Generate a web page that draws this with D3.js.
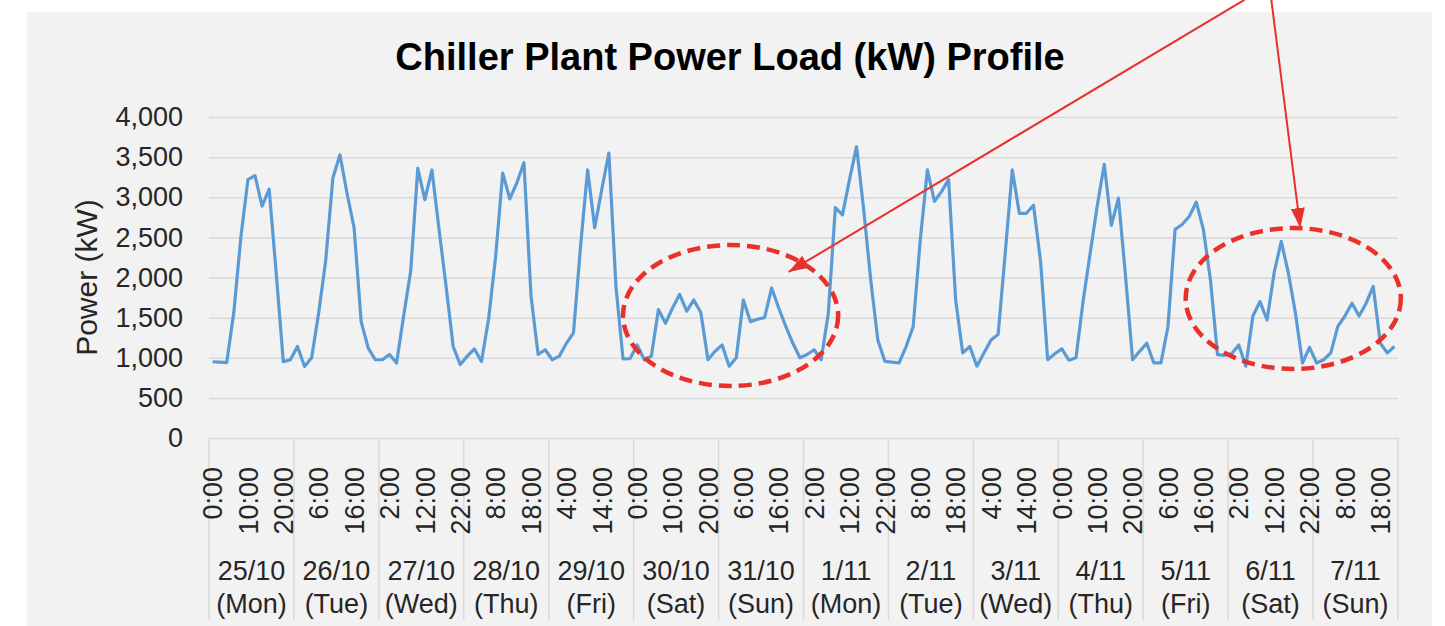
<!DOCTYPE html>
<html>
<head>
<meta charset="utf-8">
<script src="https://cdn.jsdelivr.net/npm/d3@7"></script>
<style>
  body { margin: 0; background: #fff; }
  svg { display: block; font-family: "Liberation Sans", Arial, Helvetica, sans-serif; }
</style>
</head>
<body>
<svg id="chart" width="1445" height="626"></svg>
<script>
// 2-hourly readings, 25/10 0:00 .. 7/11 22:00
const days = ['25/10', '26/10', '27/10', '28/10', '29/10', '30/10', '31/10',
  '1/11', '2/11', '3/11', '4/11', '5/11', '6/11', '7/11'];
const weekdays = ['(Mon)', '(Tue)', '(Wed)', '(Thu)', '(Fri)', '(Sat)', '(Sun)',
  '(Mon)', '(Tue)', '(Wed)', '(Thu)', '(Fri)', '(Sat)', '(Sun)'];
const hours = ['0:00', '2:00', '4:00', '6:00', '8:00', '10:00',
  '12:00', '14:00', '16:00', '18:00', '20:00', '22:00'];
const yTicks = [0, 500, 1000, 1500, 2000, 2500, 3000, 3500, 4000];

const power = [
  950, 945, 940, 1560, 2500, 3220, 3270, 2890, 3100, 2050, 950, 975,
  1140, 890, 1000, 1560, 2220, 3240, 3530, 3050, 2620, 1450, 1120, 975,
  975, 1040, 935, 1520, 2080, 3360, 2970, 3340, 2600, 1890, 1140, 915,
  1020, 1110, 955, 1480, 2260, 3300, 2980, 3180, 3430, 1770, 1040, 1100,
  975, 1020, 1180, 1310, 2390, 3340, 2620, 3100, 3550, 1890, 985, 990,
  1160, 975, 1020, 1600, 1430, 1620, 1790, 1580, 1720, 1560, 975, 1080,
  1160, 895, 1000, 1720, 1450, 1480, 1500, 1870, 1620, 1390, 1180, 1000,
  1040, 1100, 975, 1550, 2870, 2780, 3220, 3630, 2850, 1970, 1220, 955,
  945, 935, 1140, 1390, 2470, 3340, 2950, 3070, 3220, 1720, 1060, 1140,
  895, 1060, 1220, 1290, 2300, 3340, 2800, 2800, 2900, 2200, 975, 1050,
  1110, 970, 1000, 1700, 2300, 2890, 3410, 2650, 2990, 2020, 975, 1080,
  1180, 935, 935, 1390, 2600, 2660, 2760, 2940, 2600, 1970, 1040, 1030,
  1050, 1160, 895, 1520, 1700, 1470, 2060, 2450, 2060, 1560, 935, 1130,
  935, 975, 1060, 1390, 1520, 1680, 1520, 1680, 1890, 1180, 1060, 1140
];

// red call-outs, in data units (slot index, kW)
const circled = [
  { cx: 73.2, cy: 1526, rx: 15.2, ry: 878 },
  { cx: 152.7, cy: 1738, rx: 15.2, ry: 878 }
];
const arrows = [
  { from: [145.8, 5460], to: [81.4, 2069] },
  { from: [149.6, 5460], to: [153.7, 2617] }
];

const perDay = hours.length;
const plot = { left: 209, right: 1398, top: 117, bottom: 438 };

const svg = d3.select('#chart');

svg.append('rect')
  .attr('x', 27).attr('y', 12)
  .attr('width', 1405).attr('height', 614)
  .attr('fill', '#f2f2f2');

const x = d3.scaleLinear().domain([-0.5, power.length - 0.5]).range([plot.left, plot.right]);
const y = d3.scaleLinear().domain([0, 4000]).range([plot.bottom, plot.top]);

// title
svg.append('text')
  .attr('x', 730).attr('y', 70)
  .attr('text-anchor', 'middle')
  .attr('font-size', 38).attr('font-weight', 'bold')
  .attr('fill', '#000')
  .text('Chiller Plant Power Load (kW) Profile');

// gridlines + y labels
const yAxis = svg.append('g')
  .attr('transform', `translate(${plot.left},0)`)
  .call(d3.axisLeft(y).tickValues(yTicks).tickFormat(d3.format(',')).tickSize(-(plot.right - plot.left)).tickPadding(26));
yAxis.select('.domain').remove();
yAxis.selectAll('.tick line').attr('stroke', '#d9d9d9').attr('stroke-width', 1.5);
yAxis.selectAll('.tick text')
  .attr('font-size', 27)
  .attr('fill', '#262626')
  .attr('font-family', '"Liberation Sans", Arial, sans-serif');

svg.append('text')
  .attr('transform', `translate(97,${(plot.top + plot.bottom) / 2}) rotate(-90)`)
  .attr('text-anchor', 'middle')
  .attr('font-size', 30)
  .attr('fill', '#262626')
  .text('Power (kW)');

// category axis: day separators
const axisBottom = 620;
const xg = svg.append('g').attr('class', 'x-axis');
xg.selectAll('line.sep')
  .data(d3.range(days.length + 1))
  .enter()
  .append('line')
  .attr('class', 'sep')
  .attr('x1', (d) => x(d * perDay - 0.5))
  .attr('x2', (d) => x(d * perDay - 0.5))
  .attr('y1', plot.bottom)
  .attr('y2', axisBottom)
  .attr('stroke', '#d9d9d9')
  .attr('stroke-width', 1.5);

// time labels every 5th slot
xg.selectAll('text.hour')
  .data(d3.range(0, power.length, 5))
  .enter()
  .append('text')
  .attr('class', 'hour')
  .attr('transform', (d) => `translate(${x(d)},467) rotate(-90)`)
  .attr('dy', '0.36em')
  .attr('text-anchor', 'end')
  .attr('font-size', 27)
  .attr('fill', '#262626')
  .text((d) => hours[d % perDay]);

const dayLabels = xg.selectAll('text.day')
  .data(days)
  .enter()
  .append('text')
  .attr('class', 'day')
  .attr('text-anchor', 'middle')
  .attr('font-size', 27)
  .attr('fill', '#262626');
dayLabels.append('tspan')
  .attr('x', (d, i) => x(i * perDay + perDay / 2 - 0.5))
  .attr('y', 580)
  .text((d) => d);
dayLabels.append('tspan')
  .attr('x', (d, i) => x(i * perDay + perDay / 2 - 0.5))
  .attr('y', 613)
  .text((d, i) => weekdays[i]);

// the series
const line = d3.line()
  .x((d, i) => x(i))
  .y((d) => y(d));

svg.append('path')
  .datum(power)
  .attr('d', line)
  .attr('fill', 'none')
  .attr('stroke', '#5b9bd5')
  .attr('stroke-width', 3.2)
  .attr('stroke-linejoin', 'round');

// call-outs
const red = '#e8312a';
const pxPerSlot = x(1) - x(0);
const pxPerKw = y(0) - y(1);

svg.append('defs')
  .append('marker')
  .attr('id', 'head')
  .attr('markerUnits', 'userSpaceOnUse')
  .attr('orient', 'auto')
  .attr('markerWidth', 20)
  .attr('markerHeight', 14)
  .attr('refX', 20)
  .attr('refY', 7)
  .append('path')
  .attr('d', 'M0,0 L20,7 L0,14 Z')
  .attr('fill', red);

svg.selectAll('ellipse.callout')
  .data(circled)
  .enter()
  .append('ellipse')
  .attr('class', 'callout')
  .attr('cx', (d) => x(d.cx))
  .attr('cy', (d) => y(d.cy))
  .attr('rx', (d) => d.rx * pxPerSlot)
  .attr('ry', (d) => d.ry * pxPerKw)
  .attr('fill', 'none')
  .attr('stroke', red)
  .attr('stroke-width', 4.5)
  .attr('stroke-dasharray', '13 7');

svg.selectAll('line.arrow')
  .data(arrows)
  .enter()
  .append('line')
  .attr('class', 'arrow')
  .attr('x1', (d) => x(d.from[0]))
  .attr('y1', (d) => y(d.from[1]))
  .attr('x2', (d) => x(d.to[0]))
  .attr('y2', (d) => y(d.to[1]))
  .attr('stroke', red)
  .attr('stroke-width', 2)
  .attr('marker-end', 'url(#head)');
</script>
</body>
</html>
